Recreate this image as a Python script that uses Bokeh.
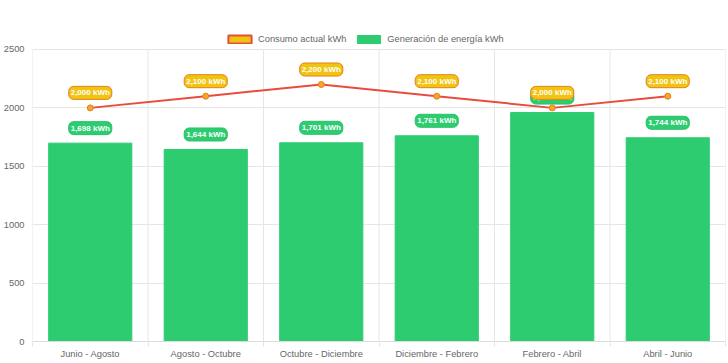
from bokeh.plotting import figure
from bokeh.models import (Range1d, FixedTicker, Legend, LegendItem, ColumnDataSource)
from bokeh.core.properties import value
from bokeh.embed import file_html
from bokeh.resources import INLINE

categories = ["Junio - Agosto", "Agosto - Octubre", "Octubre - Diciembre",
              "Diciembre - Febrero", "Febrero - Abril", "Abril - Junio"]
generacion = [1698, 1644, 1701, 1761, 1960, 1744]
consumo = [2000, 2100, 2200, 2100, 2000, 2100]
y_ticks = [0, 500, 1000, 1500, 2000, 2500]

n = len(categories)
xs = [i + 0.5 for i in range(n)]
bounds = list(range(n + 1))
y_max = y_ticks[-1]

def fmt(v):
    return f"{v:,} kWh"

src = ColumnDataSource(dict(
    x=xs, gen=generacion, con=consumo,
    gen_lbl=[fmt(v) for v in generacion],
    con_lbl=[fmt(v) for v in consumo],
))

FONT = "Liberation Sans"
GRID = "#e6e6e6"
TICK_SIZE = "9.3px"

# headroom above 2500 holds the legend (inside the frame)
p = figure(width=728, height=363, output_backend="svg", toolbar_location=None,
           x_range=Range1d(0, n), y_range=Range1d(0, 2748),
           min_border_left=31, min_border_right=3, min_border_top=20, min_border_bottom=22)
p.outline_line_color = None
p.background_fill_color = "white"

# grids: horizontal via ticker, vertical as segments at category boundaries up to 2500
p.xgrid.grid_line_color = None
p.ygrid.ticker = FixedTicker(ticks=y_ticks)
p.ygrid.grid_line_color = GRID
p.segment(x0=bounds, y0=[0] * len(bounds), x1=bounds, y1=[y_max] * len(bounds),
          line_color=GRID, line_width=1)

# axes
p.xaxis.ticker = FixedTicker(ticks=xs, minor_ticks=bounds)
p.xaxis.major_label_overrides = {x: c for x, c in zip(xs, categories)}
p.xaxis.major_tick_out = 0
p.xaxis.major_tick_in = 0
p.xaxis.minor_tick_out = 5
p.xaxis.minor_tick_in = 0
p.xaxis.minor_tick_line_color = GRID
p.xaxis.axis_line_color = "#dcdcdc"
p.xaxis.major_label_standoff = 2
p.yaxis.ticker = FixedTicker(ticks=y_ticks)
p.yaxis.major_tick_out = 0
p.yaxis.major_tick_in = 0
p.yaxis.minor_tick_line_color = None
p.yaxis.axis_line_color = None
p.yaxis.major_label_standoff = 8
for ax in (p.xaxis[0], p.yaxis[0]):
    ax.major_label_text_font = FONT
    ax.major_label_text_font_size = TICK_SIZE
    ax.major_label_text_color = "#666666"

bars = p.vbar(x="x", top="gen", width=0.72, source=src,
              fill_color="#2ecc71", line_color="#2ecc71")

p.text(x="x", y="gen", text="gen_lbl", source=src, y_offset=-15,
       text_align="center", text_baseline="middle",
       text_font=value(FONT), text_font_size="8px", text_font_style="bold",
       text_color="white", background_fill_color="#2ecc71",
       border_line_color="#27c267", border_line_width=1,
       padding=2, border_radius=5)

line = p.line(x="x", y="con", source=src, line_color="#e74c3c", line_width=2)
# zero-size box at each point, used only as the legend swatch
swatch = p.quad(left="x", right="x", top="con", bottom="con", source=src,
                fill_color="#f1c40f", line_color="#e74c3c", line_width=2)
p.scatter(x="x", y="con", source=src, size=6, fill_color="#f5a623",
          line_color="#e67e22", line_width=1)

p.text(x="x", y="con", text="con_lbl", source=src, y_offset=-15,
       text_align="center", text_baseline="middle",
       text_font=value(FONT), text_font_size="8px", text_font_style="bold",
       text_color="white", background_fill_color="#f1c40f",
       border_line_color="#e67e22", border_line_width=1,
       padding=2, border_radius=5)

legend = Legend(items=[LegendItem(label="Consumo actual kWh", renderers=[swatch]),
                       LegendItem(label="Generación de energía kWh", renderers=[bars])],
                orientation="horizontal", location=(193, 297),
                glyph_width=29, glyph_height=10, label_height=10,
                label_text_font=FONT, label_text_font_size=TICK_SIZE,
                label_text_color="#666666", label_standoff=4, spacing=8,
                padding=2, margin=0, border_line_color=None,
                background_fill_alpha=0, click_policy="none")
p.add_layout(legend)

open("out.html", "w").write(file_html(p, INLINE))
